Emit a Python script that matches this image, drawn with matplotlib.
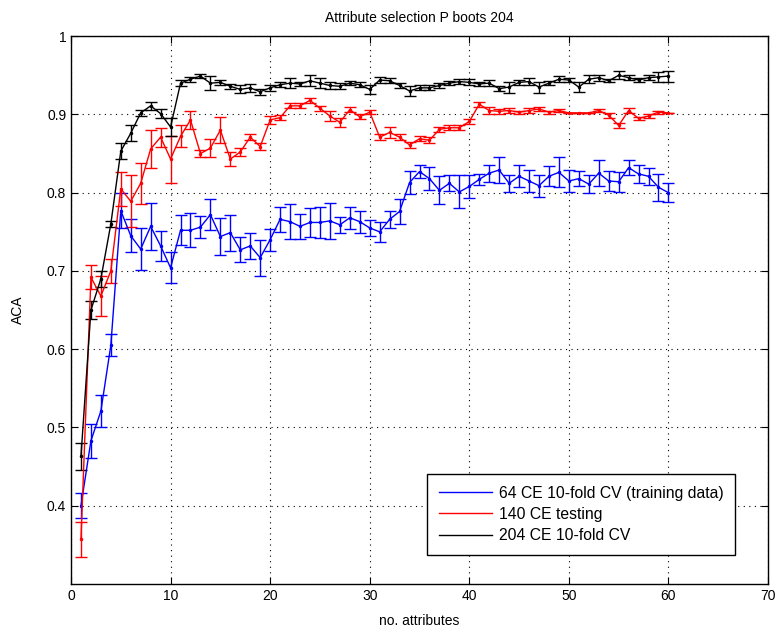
import numpy as np
import matplotlib
matplotlib.use("Agg")
import matplotlib.pyplot as plt
from matplotlib.lines import Line2D

plt.rcParams['font.family'] = ['Liberation Sans', 'DejaVu Sans']

n_attr = np.arange(1, 61)

# 64 CE 10-fold CV (training data)
train_mean = [0.400, 0.483, 0.521, 0.605, 0.777, 0.745, 0.728, 0.757, 0.732, 0.704,
              0.752, 0.752, 0.756, 0.772, 0.744, 0.749, 0.727, 0.732, 0.717, 0.740,
              0.766, 0.763, 0.757, 0.762, 0.762, 0.764, 0.759, 0.768, 0.763, 0.755,
              0.750, 0.766, 0.776, 0.813, 0.827, 0.818, 0.803, 0.812, 0.801, 0.808,
              0.817, 0.825, 0.829, 0.812, 0.821, 0.815, 0.809, 0.821, 0.826, 0.815,
              0.818, 0.811, 0.825, 0.815, 0.814, 0.832, 0.824, 0.821, 0.807, 0.800]
train_err = [0.016, 0.022, 0.020, 0.014, 0.022, 0.021, 0.027, 0.030, 0.019, 0.020,
             0.019, 0.022, 0.014, 0.020, 0.024, 0.023, 0.016, 0.017, 0.023, 0.014,
             0.016, 0.022, 0.016, 0.018, 0.020, 0.023, 0.010, 0.014, 0.014, 0.010,
             0.013, 0.011, 0.016, 0.015, 0.008, 0.015, 0.018, 0.010, 0.021, 0.015,
             0.007, 0.011, 0.016, 0.011, 0.014, 0.014, 0.014, 0.013, 0.019, 0.014,
             0.010, 0.011, 0.017, 0.013, 0.013, 0.010, 0.012, 0.011, 0.017, 0.012]

# 140 CE testing
test_mean = [0.357, 0.692, 0.668, 0.700, 0.805, 0.789, 0.812, 0.856, 0.871, 0.843,
             0.872, 0.893, 0.850, 0.857, 0.880, 0.843, 0.852, 0.871, 0.859, 0.893,
             0.896, 0.911, 0.911, 0.918, 0.908, 0.898, 0.890, 0.906, 0.897, 0.903,
             0.871, 0.877, 0.871, 0.861, 0.869, 0.867, 0.881, 0.883, 0.883, 0.891,
             0.913, 0.905, 0.904, 0.905, 0.903, 0.905, 0.907, 0.903, 0.905, 0.902,
             0.902, 0.902, 0.905, 0.899, 0.886, 0.905, 0.895, 0.898, 0.903, 0.902]
test_err = [0.022, 0.015, 0.025, 0.015, 0.022, 0.033, 0.026, 0.024, 0.012, 0.030,
            0.014, 0.012, 0.005, 0.011, 0.017, 0.009, 0.005, 0.004, 0.004, 0.005,
            0.003, 0.003, 0.003, 0.003, 0.003, 0.006, 0.006, 0.003, 0.003, 0.003,
            0.004, 0.007, 0.004, 0.004, 0.003, 0.004, 0.003, 0.003, 0.003, 0.003,
            0.003, 0.004, 0.003, 0.003, 0.002, 0.003, 0.002, 0.002, 0.002, 0.000,
            0.000, 0.000, 0.002, 0.003, 0.003, 0.003, 0.002, 0.003, 0.002, 0.000]

# 204 CE 10-fold CV
all_mean = [0.463, 0.650, 0.690, 0.760, 0.853, 0.876, 0.902, 0.911, 0.901, 0.884,
            0.940, 0.945, 0.949, 0.940, 0.941, 0.936, 0.932, 0.934, 0.929, 0.934,
            0.938, 0.940, 0.939, 0.943, 0.940, 0.937, 0.936, 0.940, 0.938, 0.932,
            0.944, 0.943, 0.937, 0.930, 0.934, 0.934, 0.937, 0.940, 0.942, 0.941,
            0.939, 0.940, 0.933, 0.935, 0.941, 0.942, 0.935, 0.940, 0.945, 0.944,
            0.935, 0.945, 0.947, 0.943, 0.950, 0.947, 0.944, 0.947, 0.948, 0.949]
all_err = [0.017, 0.012, 0.010, 0.004, 0.010, 0.010, 0.004, 0.005, 0.006, 0.012,
           0.004, 0.003, 0.003, 0.009, 0.003, 0.003, 0.005, 0.005, 0.004, 0.004,
           0.003, 0.006, 0.003, 0.007, 0.006, 0.005, 0.004, 0.003, 0.003, 0.006,
           0.004, 0.003, 0.003, 0.006, 0.003, 0.003, 0.003, 0.003, 0.003, 0.004,
           0.003, 0.004, 0.003, 0.007, 0.003, 0.004, 0.007, 0.003, 0.004, 0.003,
           0.006, 0.005, 0.004, 0.002, 0.005, 0.003, 0.003, 0.003, 0.006, 0.007]

series = [
    ("64 CE 10-fold CV (training data)", train_mean, train_err, "#0000ff"),
    ("140 CE testing", test_mean, test_err, "#ff0000"),
    ("204 CE 10-fold CV", all_mean, all_err, "#000000"),
]

fig = plt.figure(figsize=(7.76, 6.35), dpi=100)
ax = fig.add_axes([0.0915, 0.0803, 0.8982, 0.8627])

handles = []
for label, mean, err, col in series:
    ax.errorbar(n_attr, mean, yerr=err, color=col, lw=1.0, elinewidth=1.0,
                capsize=4.5, capthick=1.0, marker='.', markersize=3)
    handles.append(Line2D([0], [0], color=col, lw=1.0))

ax.set_xlim(0, 70)
ax.set_ylim(0.3, 1.0)
ax.set_xticks(range(0, 71, 10))
ax.set_yticks([0.4, 0.5, 0.6, 0.7, 0.8, 0.9, 1.0])
ax.set_yticklabels(['0.4', '0.5', '0.6', '0.7', '0.8', '0.9', '1'])
ax.grid(True, linestyle=(0, (1, 4)), color='black', lw=0.8)
ax.tick_params(direction='in', top=True, right=True, labelsize=10, length=5)
for sp in ax.spines.values():
    sp.set_linewidth(1.0)

ax.set_title("Attribute selection P boots 204", fontsize=10, pad=10)
ax.set_xlabel("no. attributes", fontsize=10, labelpad=8)
ax.set_ylabel("ACA", fontsize=10, labelpad=16)

leg = ax.legend(handles, [s[0] for s in series], loc='lower right',
                bbox_to_anchor=(0.9527, 0.053), borderaxespad=0,
                fontsize=11.3, fancybox=False,
                edgecolor='black', framealpha=1, handlelength=3.4,
                borderpad=0.75, labelspacing=0.4, handletextpad=0.4)
leg.get_frame().set_linewidth(1.0)

fig.savefig("out.png", dpi=100)
